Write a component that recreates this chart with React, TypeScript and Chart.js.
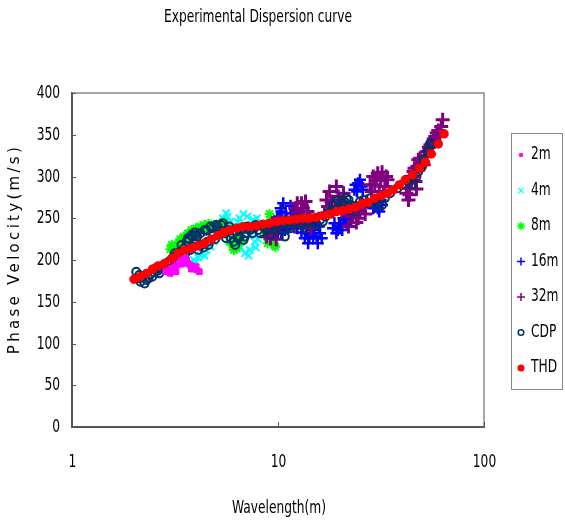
import React, { useEffect, useRef } from "react";
import { Chart, registerables } from "chart.js";
import { drawPoint } from "chart.js/helpers";

Chart.register(...registerables);

const NARROW = "'DejaVu Sans Condensed', 'Liberation Sans Narrow', 'DejaVu Sans', sans-serif";

const titleText = "Experimental Dispersion curve";
const xTitle = "Wavelength(m)";
const yTitle = "Phase Velocity(m/s)";
const xTickValues = [1, 10, 100];
const yMin = 0;
const yMax = 400;
const yStep = 50;

const seriesLabels = ["2m", "4m", "8m", "16m", "32m", "CDP", "THD"];

const w2m = [2.85, 2.95, 3.05, 3.15, 3.25, 3.35, 3.45, 3.55, 3.65, 3.75, 3.85, 3.95, 4.05, 4.15, 3.0, 3.2, 3.4, 3.6, 3.8, 4.0];
const v2m = [186, 188, 190, 192, 194, 200, 198, 202, 196, 194, 192, 190, 188, 186, 184, 186, 195, 200, 189, 192];

const w4m = [3.7, 3.9, 4.1, 4.3, 4.5, 4.7, 4.9, 5.1, 5.3, 5.5, 5.7, 5.9, 6.1, 6.3, 6.5, 6.6, 6.8, 6.9, 7.0, 7.2, 7.4, 7.6, 7.8, 8.0, 5.2, 5.4, 5.6, 5.8, 6.0, 6.4, 6.7, 7.1, 7.3, 7.5, 7.7, 7.9, 4.0, 4.2, 4.4, 3.8];
const v4m = [196, 200, 203, 208, 212, 216, 222, 228, 240, 248, 252, 246, 236, 225, 250, 215, 255, 208, 240, 205, 230, 248, 215, 225, 235, 250, 256, 244, 240, 245, 232, 252, 212, 242, 222, 250, 198, 206, 205, 194];

const w8m = [3.0, 3.15, 3.3, 3.45, 3.6, 3.75, 3.9, 4.1, 4.3, 4.5, 4.7, 4.9, 5.2, 5.5, 6.0, 6.3, 6.6, 8.6, 8.9, 9.1, 9.3, 9.5, 9.7, 9.9, 3.05, 3.2, 3.35, 3.5, 3.65, 3.8, 4.0, 4.2, 4.4, 4.6, 5.8, 6.1, 6.2, 6.4, 8.8, 9.0, 9.2, 9.4, 9.6, 9.8];
const v8m = [213, 217, 221, 224, 227, 230, 232, 235, 237, 238, 240, 242, 244, 245, 218, 214, 222, 230, 220, 255, 240, 226, 216, 248, 218, 214, 225, 228, 232, 236, 238, 240, 242, 243, 222, 212, 220, 226, 240, 226, 248, 232, 218, 236];

const w16m = [9.8, 10.1, 10.3, 10.5, 10.7, 10.9, 11.2, 11.5, 11.8, 12.2, 12.6, 13.0, 13.5, 14.0, 14.4, 14.8, 15.2, 15.6, 16.0, 18.5, 19.2, 19.8, 20.5, 21.2, 22, 23.5, 24.5, 25.5, 29, 30, 31, 32, 9.9, 10.0, 10.2, 10.4, 10.6, 10.8, 11.0, 11.4, 11.6, 12.0, 12.4, 12.8, 13.2, 13.8, 14.2, 14.6, 15.0, 15.4, 15.8, 16.3, 18.8, 19.5, 20.1, 20.8, 21.5, 22.5, 23.8, 24.2, 25, 25.8, 29.5, 30.5, 31.5];
const v16m = [240, 252, 262, 232, 245, 256, 238, 265, 248, 258, 244, 233, 226, 220, 236, 228, 242, 220, 232, 238, 232, 244, 236, 248, 252, 284, 292, 288, 262, 270, 258, 266, 250, 232, 244, 258, 268, 236, 250, 242, 256, 262, 238, 252, 240, 232, 226, 244, 236, 226, 240, 226, 244, 236, 240, 250, 242, 256, 290, 282, 296, 284, 268, 262, 272];

const w32m = [8.8, 9.1, 9.4, 9.8, 10.2, 11.8, 12.2, 12.6, 13.0, 13.4, 13.9, 14.4, 16.8, 17.5, 18.2, 18.9, 19.6, 20.4, 21.2, 22, 23, 24, 25, 26, 27, 28, 29, 30, 31, 32, 33, 34, 42, 43, 44, 45, 46, 47, 48, 50, 52, 54, 56, 58, 60, 61, 63, 8.9, 9.2, 9.6, 10.0, 12.0, 12.4, 12.8, 13.2, 13.6, 14.1, 17.2, 17.8, 18.5, 19.2, 20.0, 20.8, 21.5, 23.5, 24.5, 25.5, 26.5, 28.5, 29.5, 30.5, 31.5, 32.5, 33.5, 42.5, 43.5, 44.5, 45.5, 46.5, 47.5, 49, 51, 53, 55, 57, 59, 62];
const v32m = [228, 236, 244, 225, 240, 250, 262, 255, 268, 245, 258, 238, 256, 264, 270, 262, 276, 258, 268, 240, 252, 245, 258, 264, 270, 290, 300, 295, 282, 305, 288, 296, 280, 272, 292, 300, 310, 285, 320, 318, 325, 335, 340, 348, 355, 352, 368, 240, 226, 232, 246, 240, 268, 250, 262, 270, 250, 272, 282, 258, 288, 270, 280, 262, 262, 250, 268, 255, 282, 290, 304, 296, 280, 300, 286, 278, 296, 306, 294, 312, 322, 314, 330, 338, 345, 352, 360];

const wCDP = [2.05, 2.1, 2.15, 2.2, 2.3, 2.4, 2.5, 2.6, 2.7, 2.8, 2.9, 3.0, 3.1, 3.2, 3.35, 3.5, 3.6, 3.7, 3.85, 4.0, 4.1, 4.2, 4.35, 4.5, 4.6, 4.8, 4.95, 5.1, 5.3, 5.5, 5.7, 5.9, 6.1, 6.3, 6.5, 6.8, 7.0, 7.3, 7.6, 8.0, 8.5, 9.0, 9.5, 10.0, 10.5, 11.0, 11.5, 12, 12.5, 13, 14, 15, 16, 17, 18, 19, 20, 21, 22, 23, 24, 25, 27, 29, 30, 32, 35, 40, 44, 47, 50, 53, 56,
  2.12, 2.25, 2.35, 2.45, 2.55, 2.65, 2.75, 2.85, 2.95, 3.05, 3.15, 3.25, 3.4, 3.45, 3.55, 3.65, 3.75, 3.8, 3.9, 3.95, 4.05, 4.25, 4.4, 4.55, 4.7, 4.85, 5.0, 5.2, 5.4, 5.6, 5.8, 6.0, 6.2, 6.4, 6.6, 6.9, 7.1, 7.5, 7.8, 8.2, 8.8, 9.2, 9.7, 10.2, 10.8, 11.3, 12.3, 13.5, 14.5, 15.5, 16.5, 17.5, 18.5, 19.5, 20.5, 21.5, 22.5, 23.5, 26, 28, 31, 33, 38, 42, 45, 48, 51, 54, 55];
const vCDP = [186, 178, 174, 180, 176, 183, 185, 187, 190, 192, 195, 199, 203, 206, 210, 214, 222, 225, 228, 230, 212, 232, 215, 235, 218, 238, 225, 240, 242, 232, 236, 226, 222, 234, 228, 224, 232, 236, 238, 236, 240, 238, 242, 240, 236, 244, 238, 244, 248, 242, 246, 244, 248, 252, 258, 268, 262, 270, 272, 262, 264, 270, 268, 268, 264, 266, 280, 290, 296, 300, 312, 330, 338,
  182, 172, 178, 180, 190, 184, 193, 188, 198, 196, 208, 200, 218, 205, 208, 226, 212, 230, 216, 233, 228, 218, 236, 222, 240, 230, 242, 235, 244, 226, 240, 232, 218, 226, 236, 228, 240, 232, 242, 232, 236, 230, 236, 246, 228, 240, 250, 238, 250, 242, 246, 256, 265, 272, 268, 274, 266, 258, 272, 274, 270, 274, 286, 296, 290, 306, 320, 332, 340];

const wTHD = [2.0, 2.14, 2.3, 2.46, 2.62, 2.82, 3.05, 3.27, 3.52, 3.8, 4.08, 4.4, 4.75, 5.1, 5.45, 5.85, 6.3, 6.75, 7.3, 7.9, 8.45, 9.1, 9.85, 10.6, 11.4, 12.3, 13.2, 14.2, 15.3, 16.5, 17.8, 19.2, 20.6, 22.1, 23.8, 25.5, 27.3, 29.5, 31.8, 34, 36.2, 38.8, 41.5, 45, 48.5, 52, 55.5, 60, 64];
const vTHD = [177, 180, 184, 189, 193, 196, 202, 208, 212, 214, 217, 220, 225, 229, 233, 236, 238, 240, 240, 241, 243, 244, 246, 247, 248, 249, 250, 250, 251, 253, 255, 258, 259, 261, 263, 267, 269, 274, 277, 280, 284, 290, 296, 302, 310, 317, 327, 339, 351];

const zip = (xs: number[], ys: number[]) => xs.map((x, i) => ({ x, y: ys[i] }));

const SQUEEZE = 0.8;
function narrowText(ctx: CanvasRenderingContext2D, text: string, x: number, y: number, size: number, align: CanvasTextAlign) {
  ctx.save();
  ctx.translate(x, y);
  ctx.scale(SQUEEZE, 1);
  ctx.font = `${size}px ${NARROW}`;
  ctx.textAlign = align;
  ctx.textBaseline = "middle";
  ctx.fillStyle = "#000";
  ctx.fillText(text, 0, 0);
  ctx.restore();
}

const textPlugin = {
  id: "customText",
  afterDraw(chart: any) {
    const ctx = chart.ctx;
    const area = chart.chartArea;
    ctx.save();
    ctx.strokeStyle = "#8a8a8a";
    ctx.lineWidth = 1.5;
    ctx.beginPath();
    ctx.moveTo(area.left, area.top);
    ctx.lineTo(area.right, area.top);
    ctx.lineTo(area.right, area.bottom);
    ctx.stroke();
    ctx.strokeStyle = "#555";
    ctx.lineWidth = 1;
    const ys = chart.scales.y;
    ys.ticks.forEach((t: any, i: number) => {
      const py = Math.round(ys.getPixelForTick(i)) + 0.5;
      ctx.beginPath();
      ctx.moveTo(area.left, py);
      ctx.lineTo(area.left + 4, py);
      ctx.stroke();
      narrowText(ctx, String(t.value), area.left - 12, py, 17, "right");
    });
    const xs = chart.scales.x;
    xs.ticks.forEach((t: any, i: number) => {
      const px = Math.round(xs.getPixelForTick(i)) + 0.5;
      ctx.beginPath();
      ctx.moveTo(px, area.bottom);
      ctx.lineTo(px, area.bottom - 5);
      ctx.stroke();
      narrowText(ctx, String(t.value), px, area.bottom + 36, 17, "center");
    });
    narrowText(ctx, titleText, 258, 18, 17, "center");
    narrowText(ctx, xTitle, 279, 509, 17, "center");
    ctx.save();
    ctx.translate(15, 249);
    ctx.rotate(-Math.PI / 2);
    ctx.font = "15px 'DejaVu Sans'";
    ctx.fillStyle = "#000";
    ctx.textAlign = "center";
    ctx.textBaseline = "middle";
    (ctx as any).letterSpacing = "3.3px";
    ctx.fillText(yTitle, 0, 0);
    ctx.restore();
    ctx.strokeStyle = "#888";
    ctx.lineWidth = 1;
    ctx.strokeRect(511.5, 133.5, 51, 256);
    chart.data.datasets.forEach((ds: any, i: number) => {
      const cy = 155 + i * 35.5;
      ctx.fillStyle = ds.backgroundColor;
      ctx.strokeStyle = ds.borderColor;
      ctx.lineWidth = ds.legendBorder;
      drawPoint(ctx, { pointStyle: ds.pointStyle, radius: ds.legendRadius, rotation: 0, borderWidth: ds.legendBorder }, 521, cy);
      narrowText(ctx, ds.label, 531, cy, 17, "left");
    });
    ctx.restore();
  },
};

export default function App() {
  const ref = useRef<HTMLCanvasElement>(null);
  useEffect(() => {
    document.body.style.margin = "0";
    if (!ref.current) return;
    const chart = new Chart(ref.current, {
      type: "scatter",
      data: {
        datasets: [
          { label: seriesLabels[0], data: zip(w2m, v2m), pointStyle: "rect", pointRadius: 4, backgroundColor: "#FF00FF", borderColor: "#FF00FF", borderWidth: 1, order: 0.5, legendRadius: 2, legendBorder: 1 } as any,
          { label: seriesLabels[1], data: zip(w4m, v4m), pointStyle: "crossRot", pointRadius: 5, backgroundColor: "#00FFFF", borderColor: "#00FFFF", borderWidth: 2, order: 5, legendRadius: 4, legendBorder: 1.2 } as any,
          { label: seriesLabels[2], data: zip(w8m, v8m), pointStyle: "star", pointRadius: 5, backgroundColor: "#00FF00", borderColor: "#00FF00", borderWidth: 2, order: 4, legendRadius: 4, legendBorder: 1.5 } as any,
          { label: seriesLabels[3], data: zip(w16m, v16m), pointStyle: "cross", pointRadius: 6, backgroundColor: "#0000FF", borderColor: "#0000FF", borderWidth: 2.5, order: 3, legendRadius: 4, legendBorder: 1.5 } as any,
          { label: seriesLabels[4], data: zip(w32m, v32m), pointStyle: "cross", pointRadius: 7, backgroundColor: "#800080", borderColor: "#800080", borderWidth: 3, order: 2, legendRadius: 4, legendBorder: 1.5 } as any,
          { label: seriesLabels[5], data: zip(wCDP, vCDP), pointStyle: "circle", pointRadius: 4, backgroundColor: "rgba(0,0,0,0)", borderColor: "#003366", borderWidth: 2, order: 1, legendRadius: 2.8, legendBorder: 1.5 } as any,
          { label: seriesLabels[6], data: zip(wTHD, vTHD), pointStyle: "circle", pointRadius: 4.7, backgroundColor: "#FF0000", borderColor: "#FF0000", borderWidth: 0, order: 0, legendRadius: 3.5, legendBorder: 0 } as any,
        ],
      },
      options: {
        responsive: false,
        animation: false,
        devicePixelRatio: 1,
        layout: { padding: { top: 93, right: 81, left: 0, bottom: 0 } },
        plugins: { legend: { display: false }, title: { display: false }, tooltip: { enabled: false } },
        scales: {
          x: {
            type: "logarithmic",
            min: 1,
            max: 100,
            afterBuildTicks: (scale: any) => {
              scale.ticks = xTickValues.map((v) => ({ value: v, major: true }));
            },
            afterFit: (scale: any) => {
              scale.height = 99;
            },
            grid: { display: false, drawTicks: false },
            border: { display: true, color: "#555", width: 2 },
            ticks: { display: false, autoSkip: false },
          },
          y: {
            min: yMin,
            max: yMax,
            afterFit: (scale: any) => {
              scale.width = 72;
            },
            grid: { display: false, drawTicks: false },
            border: { display: true, color: "#555", width: 2 },
            ticks: { display: false, stepSize: yStep },
          },
        },
      },
      plugins: [textPlugin],
    } as any);
    return () => chart.destroy();
  }, []);
  return <canvas ref={ref} width={565} height={526} style={{ display: "block" }} />;
}
